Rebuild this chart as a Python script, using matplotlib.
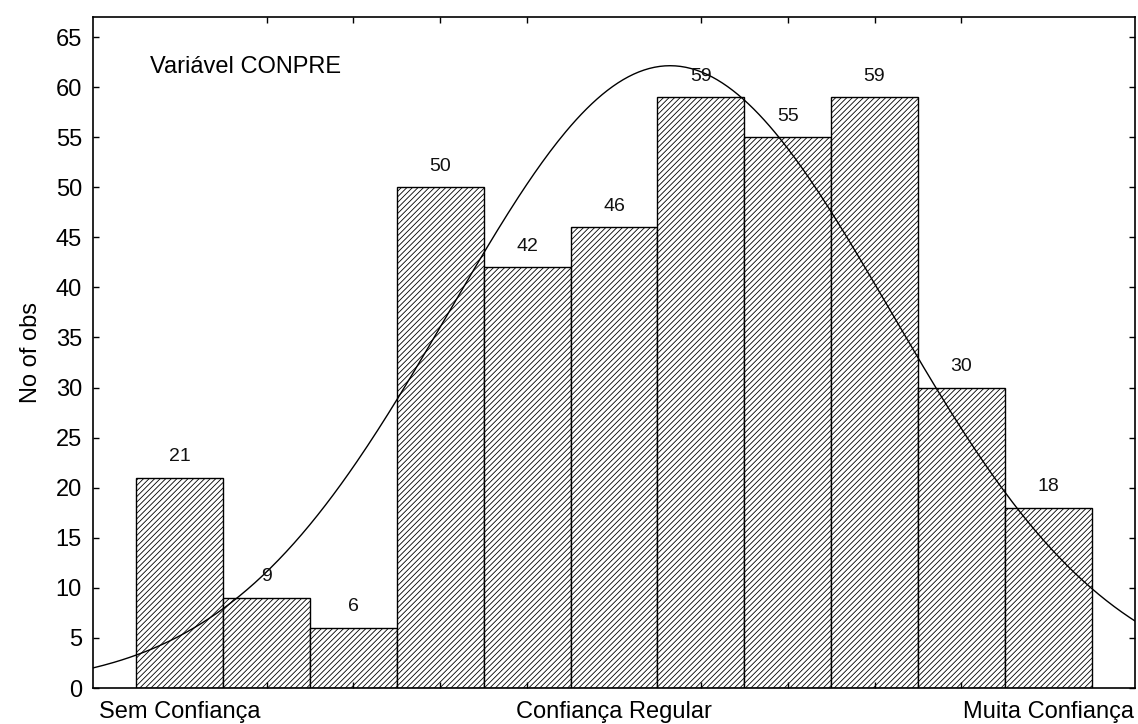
import numpy as np
import matplotlib
matplotlib.use('Agg')
import matplotlib.pyplot as plt

plt.rcParams.update({
    'font.family': 'sans-serif',
    'font.sans-serif': ['Liberation Sans', 'DejaVu Sans'],
    'hatch.linewidth': 0.6,
    'hatch.color': 'black',
})

# CONPRE histogram: 11 categories, counts per category
categories = np.arange(11)
counts = [21, 9, 6, 50, 42, 46, 59, 55, 59, 30, 18]
tick_positions = [0, 5, 10]
tick_labels = ['Sem Confiança', 'Confiança Regular', 'Muita Confiança']

counts_arr = np.array(counts, dtype=float)
n_obs = counts_arr.sum()
mu = (categories * counts_arr).sum() / n_obs
sigma = np.sqrt(((categories - mu) ** 2 * counts_arr).sum() / n_obs)

fig = plt.figure(figsize=(11.38, 7.24), dpi=100)
ax = fig.add_axes([0.0817, 0.0497, 0.9157, 0.9268])

bars = ax.bar(categories, counts, width=1.0, facecolor='white',
              edgecolor='black', linewidth=1.0, hatch='//////')

for xi, c in zip(categories, counts):
    ax.annotate(str(c), xy=(xi, c), xytext=(0, 9), textcoords='offset points',
                ha='center', va='bottom', fontsize=14, color='#111111')

# expected normal curve scaled to counts (bin width 1)
xs = np.linspace(-1, 11, 400)
ys = n_obs / (sigma * np.sqrt(2 * np.pi)) * np.exp(-0.5 * ((xs - mu) / sigma) ** 2)
ax.plot(xs, ys, color='black', lw=1.0)

ax.set_xlim(-1, 11)
ax.set_ylim(0, 67)
ax.set_yticks(np.arange(0, 66, 5))
ax.set_xticks(tick_positions)
ax.set_xticklabels(tick_labels)
ax.set_xticks(categories, minor=True)
ax.tick_params(axis='both', which='both', direction='in', top=True, right=True,
               length=4, width=1.0, labelsize=17)
ax.tick_params(axis='x', which='major', length=0, pad=9)
ax.tick_params(axis='y', pad=8)
for sp in ax.spines.values():
    sp.set_linewidth(1.2)

ax.set_ylabel('No of obs', fontsize=17, labelpad=10)
ax.text(0.055, 0.925, 'Variável CONPRE', transform=ax.transAxes,
        fontsize=17, ha='left', va='center')

fig.savefig('out.png', dpi=100)
plt.close(fig)
